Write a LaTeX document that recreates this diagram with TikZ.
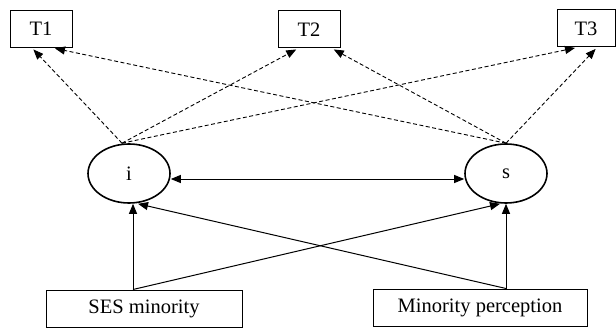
\documentclass[tikz,border=0pt]{standalone}
\usepackage{fontspec}
\setmainfont{Liberation Serif}
\usetikzlibrary{arrows.meta,shapes.geometric,calc}
\begin{document}
\begin{tikzpicture}[x=1pt,y=-1pt,
  font=\fontsize{20.5}{24}\selectfont,
  tbox/.style={draw,line width=1pt,rectangle,inner sep=0pt},
  latent/.style={draw,line width=1.6pt,ellipse,inner sep=0pt,minimum width=82pt,minimum height=59pt},
  solidarr/.style={line width=1pt,-{Triangle[length=10pt,width=8pt]}},
  dasharr/.style={line width=0.9pt,dash pattern=on 4pt off 2.5pt,-{Triangle[length=10pt,width=8pt]},shorten >=2pt}]
\useasboundingbox (0,0) rectangle (616,329);
\node[tbox,minimum width=62pt,minimum height=37pt] (T1) at (41,29) {T1};
\node[tbox,minimum width=62pt,minimum height=37pt] (T2) at (309,29.5) {T2};
\node[tbox,minimum width=58pt,minimum height=37pt] (T3) at (586,28.5) {T3};
\node[latent] (i) at (129,173.5) {i};
\node[latent] (s) at (506,173.5) {s};
\node[tbox,minimum width=196pt,minimum height=37pt] (SES) at (144,308.5) {SES minority};
\node[tbox,minimum width=214pt,minimum height=37pt] (MP) at (480,307.5) {Minority perception};
\coordinate (itop) at ([xshift=-7pt]i.north);
\coordinate (stop) at (s.north);
\coordinate (a1) at (SES.north -| 133,0);
\coordinate (b1) at (MP.north -| s.south);
% dashed loadings
\draw[dasharr] (itop) -- ([xshift=-9pt]T1.south);
\draw[dasharr] (itop) -- ([xshift=-11pt]T2.south);
\draw[dasharr] (itop) -- ([xshift=-9pt]T3.south);
\draw[dasharr] (stop) -- ([xshift=12pt]T1.south);
\draw[dasharr] (stop) -- ([xshift=23pt]T2.south);
\draw[dasharr] (stop) -- ([xshift=11pt]T3.south);
% covariance
\draw[line width=1pt,{Triangle[length=10pt,width=8pt]}-{Triangle[length=10pt,width=8pt]}] ([yshift=-5.5pt]i.east) -- ([yshift=-5.5pt]s.west);
% predictors
\draw[solidarr] (a1) -- (a1 |- i.south);
\draw[solidarr] (a1) -- ([xshift=-6pt]s.south);
\draw[solidarr] (b1) -- (s.south);
\draw[solidarr] (b1) -- ([xshift=9pt]i.south);
\end{tikzpicture}
\end{document}
